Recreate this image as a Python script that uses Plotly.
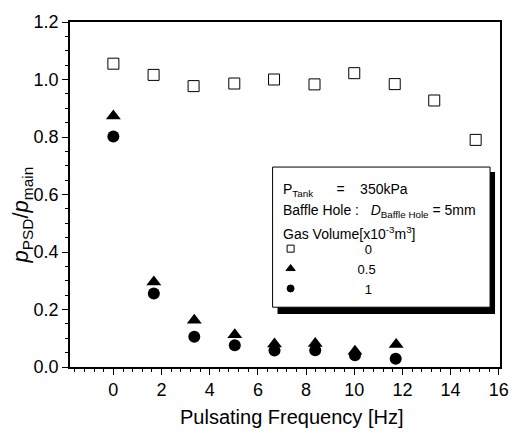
import plotly.graph_objects as go

freq_sq = [0.0, 1.67, 3.33, 5.02, 6.67, 8.35, 10.0, 11.68, 13.32, 15.04]
val_sq = [1.055, 1.016, 0.977, 0.986, 1.000, 0.983, 1.022, 0.984, 0.927, 0.790]

freq_tri = [0.0, 1.68, 3.36, 5.04, 6.69, 8.38, 10.03, 11.74]
val_tri = [0.873, 0.296, 0.163, 0.112, 0.080, 0.082, 0.055, 0.078]

freq_cir = [0.0, 1.68, 3.36, 5.04, 6.69, 8.38, 10.03, 11.72]
val_cir = [0.802, 0.256, 0.105, 0.076, 0.057, 0.058, 0.041, 0.029]

legend_names = ["0", "0.5", "1"]

x_tickvals = [0, 2, 4, 6, 8, 10, 12, 14, 16]
x_ticktext = ["0", "2", "4", "6", "8", "10", "12", "14", "16"]
y_tickvals = [0.0, 0.2, 0.4, 0.6, 0.8, 1.0, 1.2]
y_ticktext = ["0.0", "0.2", "0.4", "0.6", "0.8", "1.0", "1.2"]

W, H = 521, 434
ML, MR, MT, MB = 70, 18, 15, 67
PW, PH = W - ML - MR, H - MT - MB

def px(x):
    return (x - ML) / PW

def py(y):
    return (H - MB - y) / PH

FONT = "Liberation Sans, Arial, sans-serif"
NB = "\u00a0"

fig = go.Figure()
fig.add_trace(go.Scatter(x=freq_sq, y=val_sq, mode="markers", showlegend=False,
                         marker=dict(symbol="square-open", size=11, color="black",
                                     line=dict(width=1, color="black"))))
fig.add_trace(go.Scatter(x=freq_cir, y=val_cir, mode="markers", showlegend=False,
                         marker=dict(symbol="circle", size=12, color="black")))
fig.add_trace(go.Scatter(x=freq_tri, y=val_tri, mode="markers", showlegend=False,
                         marker=dict(symbol="triangle-up", size=13, color="black")))

# legend entries
leg_syms = [("square-open", 7), ("triangle-up", 8), ("circle", 7)]
pads = [15, 13, 15]
for (sym, sz), name, pad in zip(leg_syms, legend_names, pads):
    fig.add_trace(go.Scatter(x=[None], y=[None], mode="markers", name=NB * pad + name,
                             marker=dict(symbol=sym, size=sz, color="black",
                                         line=dict(width=1, color="black"))))

# legend box shadow and box
fig.add_shape(type="rect", xref="paper", yref="paper",
              x0=px(279), x1=px(498), y0=py(313), y1=py(168),
              fillcolor="black", line=dict(width=0), layer="above")
fig.add_shape(type="rect", xref="paper", yref="paper",
              x0=px(274), x1=px(493), y0=py(306), y1=py(163),
              fillcolor="white", line=dict(width=1, color="black"), layer="above")

ann_font = dict(family=FONT, size=14, color="black")
fig.add_annotation(xref="paper", yref="paper", x=px(282), y=py(186), xanchor="left", yanchor="middle",
                   text="P<sub>Tank</sub>" + NB * 6 + "=" + NB * 4 + "350kPa", showarrow=False, font=ann_font)
fig.add_annotation(xref="paper", yref="paper", x=px(282), y=py(208), xanchor="left", yanchor="middle",
                   text="Baffle Hole :" + NB * 3 + "<i>D</i><sub>Baffle Hole</sub> = 5mm", showarrow=False, font=ann_font)
fig.add_annotation(xref="paper", yref="paper", x=px(282), y=py(230), xanchor="left", yanchor="middle",
                   text="Gas Volume[x10<sup>-3</sup>m<sup>3</sup>]", showarrow=False, font=ann_font)

# axis titles
fig.add_annotation(xref="paper", yref="paper", x=px(293), y=py(418), xanchor="center", yanchor="middle",
                   text="Pulsating Frequency [Hz]", showarrow=False,
                   font=dict(family=FONT, size=20, color="black"))
fig.add_annotation(xref="paper", yref="paper", x=px(22), y=py(212), xanchor="center", yanchor="middle",
                   text="<i>p</i><sub>PSD</sub>/<i>p</i><sub>main</sub>", textangle=-90, showarrow=False,
                   font=dict(family=FONT, size=22, color="black"))

fig.update_layout(
    width=W, height=H,
    margin=dict(l=ML, r=MR, t=MT, b=MB, pad=0),
    paper_bgcolor="white", plot_bgcolor="white",
    font=dict(family=FONT, size=18, color="black"),
    legend=dict(x=px(272), y=py(231), xanchor="left", yanchor="top",
                bgcolor="rgba(0,0,0,0)", borderwidth=0,
                font=dict(family=FONT, size=13, color="black"),
                tracegroupgap=0, itemwidth=30),
    xaxis=dict(range=[-1.8, 16.05], tickmode="array", tickvals=x_tickvals, ticktext=x_ticktext,
               ticks="outside", ticklen=6, tickwidth=1.3,
               tickcolor="black", showline=True, linecolor="black", linewidth=1.5, mirror=True,
               showgrid=False, zeroline=False,
               minor=dict(tick0=0, dtick=0.4, ticks="outside", ticklen=3, tickcolor="black", showgrid=False)),
    yaxis=dict(range=[0, 1.2], tickmode="array", tickvals=y_tickvals, ticktext=y_ticktext,
               ticks="outside", ticklen=6,
               tickwidth=1.3, tickcolor="black", showline=True, linecolor="black", linewidth=1.5,
               mirror=True, showgrid=False, zeroline=False,
               minor=dict(tick0=0, dtick=0.05, ticks="outside", ticklen=3, tickcolor="black", showgrid=False)),
)

fig.write_html("out.html")
